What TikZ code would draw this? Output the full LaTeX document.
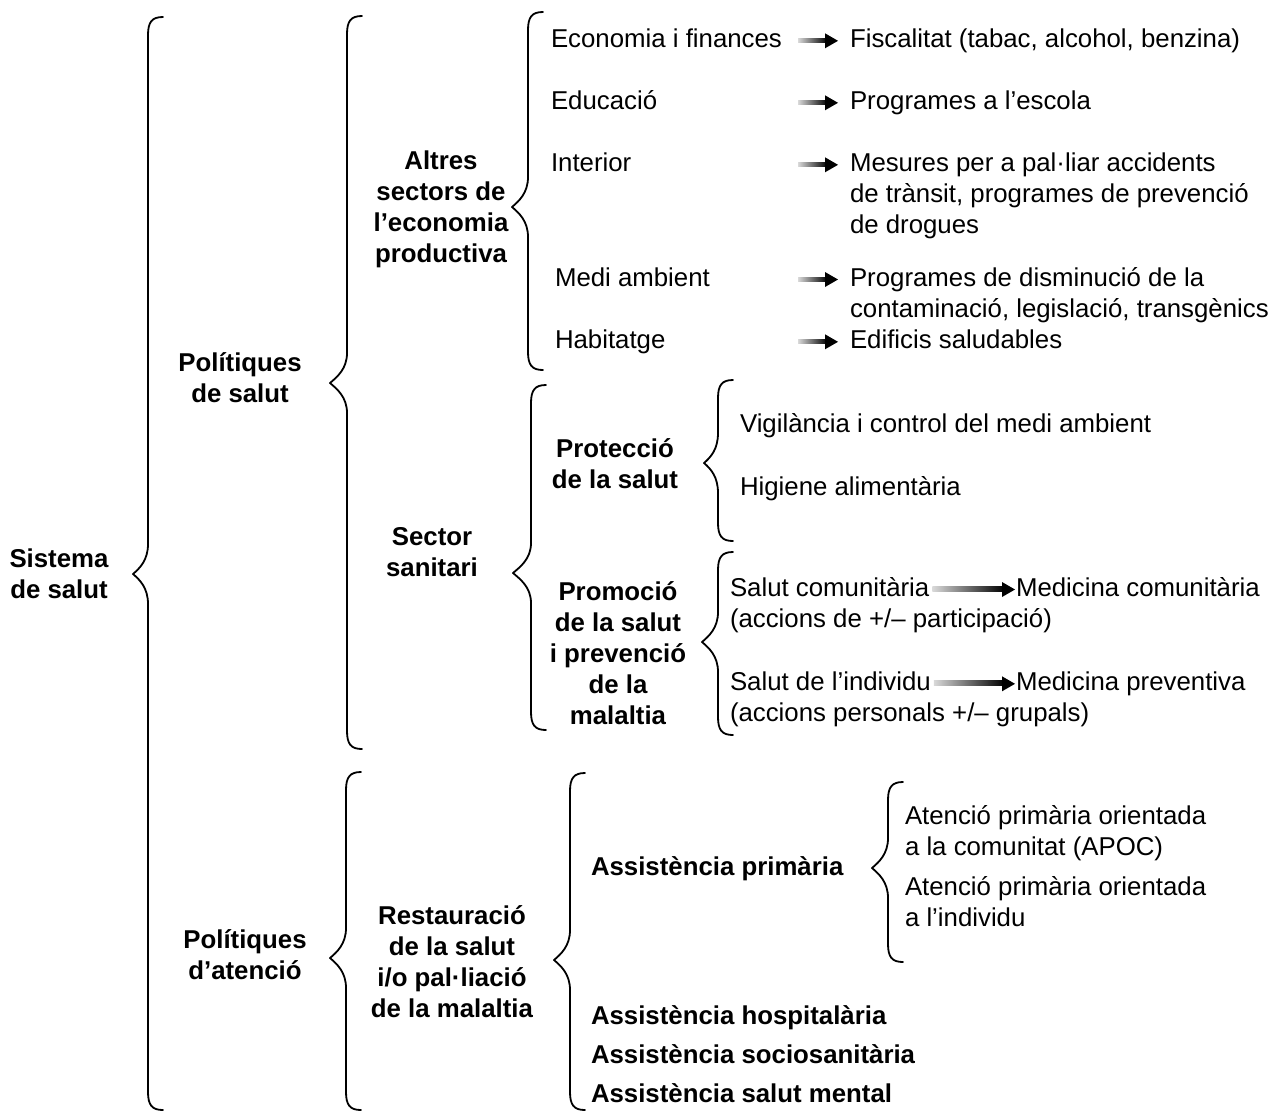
\documentclass[tikz,border=0pt]{standalone}
\usepackage{fontspec}
\setmainfont{Liberation Sans}
\usetikzlibrary{calc}

\newcommand\fs{\fontsize{25.8}{31}\selectfont}

% curly brace opening to the right: #1 x of the stem, #2 top, #3 y of the tip,
% #4 bottom, #5 x of the tip
\newcommand\cbrace[5]{%
  \draw[brc] (#1+15,#2) .. controls (#1+4,#2) and (#1,#2+5) .. (#1,#2+18)
    -- (#1,#3-30) .. controls (#1,#3-14) and (#5+7,#3-6) .. (#5,#3)
    .. controls (#5+7,#3+6) and (#1,#3+14) .. (#1,#3+30)
    -- (#1,#4-18) .. controls (#1,#4-5) and (#1+4,#4) .. (#1+15,#4);
}

% grey-to-black arrow: #1 start coordinate, #2 target node, #3 gap before the node,
% #4 half thickness of the shaft
\newcommand\grarrow[4]{%
  \coordinate (gs) at (#1);
  \coordinate (ge) at ($(#2.north west)+(-#3,12.5)$);
  \shade[left color=gray!30, right color=black]
    ($(gs)+(0,-#4)$) rectangle ($(ge)+(-11,#4)$);
  \fill (ge) -- ($(ge)+(-13,-7.5)$) -- ($(ge)+(-13,7.5)$) -- cycle;
}

% multi-line nodes are placed by the baseline of their last line
\tikzset{
  lbl/.style={inner sep=0pt, outer sep=0pt, font=\fs},
  head/.style={lbl, font=\fs\bfseries, align=center, anchor=base},
  item/.style={lbl, align=left, anchor=base west},
  bitem/.style={item, font=\fs\bfseries},
  brc/.style={line width=1.8pt, line cap=round, line join=round},
}

\begin{document}
\begin{tikzpicture}[x=1pt, y=-1pt]
\useasboundingbox (0,0) rectangle (1281,1112);

% braces
\cbrace{148}{17}{574}{1110}{133}
\cbrace{347}{16}{383}{749}{330}
\cbrace{528}{12}{207}{370}{512}
\cbrace{531}{385}{573}{730}{513}
\cbrace{718}{380}{463}{541}{704}
\cbrace{718}{552}{642}{735}{702}
\cbrace{346}{772}{958}{1110}{330}
\cbrace{570}{773}{960}{1110}{554}
\cbrace{888}{782}{868}{962}{872}

% headings
\node[head] (ss) at (59,598) {Sistema\\de salut};
\node[head] (ps) at (240,402) {Polítiques\\de salut};
\node[head] (as) at (441,262) {Altres\\sectors de\\l’economia\\productiva};
\node[head] (sn) at (432,576) {Sector\\sanitari};
\node[head] (pr) at (615,488) {Protecció\\de la salut};
\node[head] (pm) at (618,724) {Promoció\\de la salut\\i prevenció\\de la\\malaltia};
\node[head] (pa) at (245,979) {Polítiques\\d’atenció};
\node[head] (rs) at (452,1017) {Restauració\\de la salut\\i/o pal·liació\\de la malaltia};

\node[bitem] (ap) at (591,875) {Assistència primària};
\node[bitem] (ah) at (591,1024) {Assistència hospitalària};
\node[bitem] (aso) at (591,1063) {Assistència sociosanitària};
\node[bitem] (am) at (591,1102) {Assistència salut mental};

% other sectors
\node[item] (ef) at (551,47) {Economia i finances};
\node[item] (ed) at (551,109) {Educació};
\node[item] (in) at (551,171) {Interior};
\node[item] (ma) at (555,286) {Medi ambient};
\node[item] (hb) at (555,348) {Habitatge};

\node[item] (fi) at (850,47) {Fiscalitat (tabac, alcohol, benzina)};
\node[item] (pe) at (850,109) {Programes a l’escola};
\node[item] (me) at (850,233) {Mesures per a pal·liar accidents\\de trànsit, programes de prevenció\\de drogues};
\node[item] (pd) at (850,317) {Programes de disminució de la\\contaminació, legislació, transgènics};
\node[item] (es) at (850,348) {Edificis saludables};

\coordinate (a1) at (798,40);
\coordinate (a2) at (798,102);
\coordinate (a3) at (798,164);
\coordinate (a4) at (798,279);
\coordinate (a5) at (798,341);
\grarrow{a1}{fi}{12}{2}
\grarrow{a2}{pe}{12}{2}
\grarrow{a3}{me}{12}{2}
\grarrow{a4}{pd}{12}{2}
\grarrow{a5}{es}{12}{2}

% health sector
\node[item] (vc) at (740,432) {Vigilància i control del medi ambient};
\node[item] (ha) at (740,495) {Higiene alimentària};

\node[item] (sc) at (730,596) {Salut comunitària};
\node[item] (scn) at (730,627) {(accions de +/– participació)};
\node[item] (mc) at (1016,596) {Medicina comunitària};
\node[item] (si) at (730,690) {Salut de l’individu};
\node[item] (sin) at (730,721) {(accions personals +/– grupals)};
\node[item] (mp) at (1016,690) {Medicina preventiva};

\coordinate (a6) at ($(sc.base east)+(3,-8)$);
\coordinate (a7) at ($(si.base east)+(3,-8)$);
\grarrow{a6}{mc}{1}{1.5}
\grarrow{a7}{mp}{1}{1.5}

% primary care
\node[item] (oc) at (905,855) {Atenció primària orientada\\a la comunitat (APOC)};
\node[item] (oi) at (905,926) {Atenció primària orientada\\a l’individu};
\end{tikzpicture}
\end{document}
